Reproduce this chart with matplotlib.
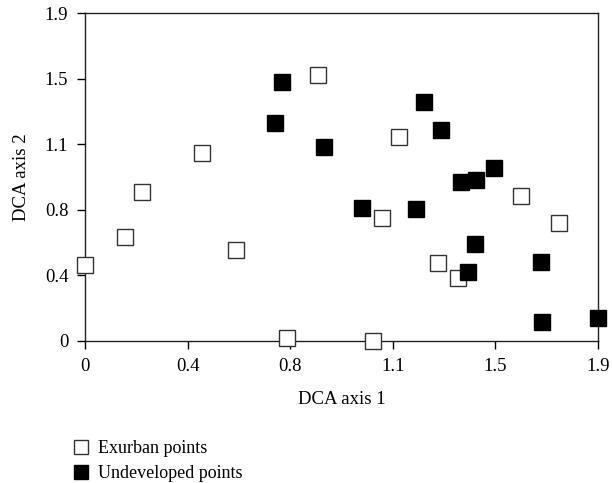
import matplotlib
matplotlib.use('Agg')
import matplotlib.pyplot as plt
import numpy as np

plt.rcParams['font.family'] = ['Liberation Serif', 'DejaVu Serif']

# exurban points (open squares)
exurban_x = [0.0, 0.148, 0.21, 0.434, 0.558, 0.749, 0.864, 1.163, 1.099, 1.068, 1.309, 1.380, 1.614, 1.756]
exurban_y = [0.44, 0.60, 0.865, 1.087, 0.527, 0.016, 1.541, 1.184, 0.711, 0.0, 0.45, 0.367, 0.842, 0.686]

# undeveloped points (filled squares)
undev_x = [0.728, 0.704, 0.886, 1.025, 1.257, 1.319, 1.225, 1.391, 1.447, 1.516, 1.444, 1.420, 1.688, 1.694, 1.901]
undev_y = [1.502, 1.265, 1.124, 0.769, 1.387, 1.221, 0.765, 0.919, 0.931, 1.002, 0.562, 0.40, 0.456, 0.108, 0.135]

tick_pos = np.arange(6) * 0.38
tick_labels = ['0', '0.4', '0.8', '1.1', '1.5', '1.9']

fig = plt.figure(figsize=(6.12, 4.83), dpi=100)
ax = fig.add_axes([0.139, 0.294, 0.838, 0.679])

ax.plot(exurban_x, exurban_y, 's', ms=12, mfc='white', mec='#333333', mew=1.0,
        clip_on=False, zorder=3, label='Exurban points')
ax.plot(undev_x, undev_y, 's', ms=12, mfc='black', mec='black', mew=1.0,
        clip_on=False, zorder=4, label='Undeveloped points')

ax.set_xlim(0, 1.9)
ax.set_ylim(0, 1.9)
ax.set_xticks(tick_pos)
ax.set_xticklabels(tick_labels)
ax.set_yticks(tick_pos)
ax.set_yticklabels(tick_labels)
ax.tick_params(direction='out', length=6, width=1, labelsize=13.5, colors='black', pad=6)
for s in ax.spines.values():
    s.set_linewidth(1.0)
    s.set_color('#222222')

ax.set_xlabel('DCA axis 1', fontsize=13.5, labelpad=12)
ax.set_ylabel('DCA axis 2', fontsize=13.5, labelpad=11)

leg = fig.legend(loc='upper left', frameon=False,
                 fontsize=13, handletextpad=0.15, labelspacing=0.45, markerscale=0.8,
                 borderaxespad=0, handlelength=1.6)
leg.set_bbox_to_anchor((0.097, 0.104), transform=fig.transFigure)

fig.savefig('out.png', dpi=100)
